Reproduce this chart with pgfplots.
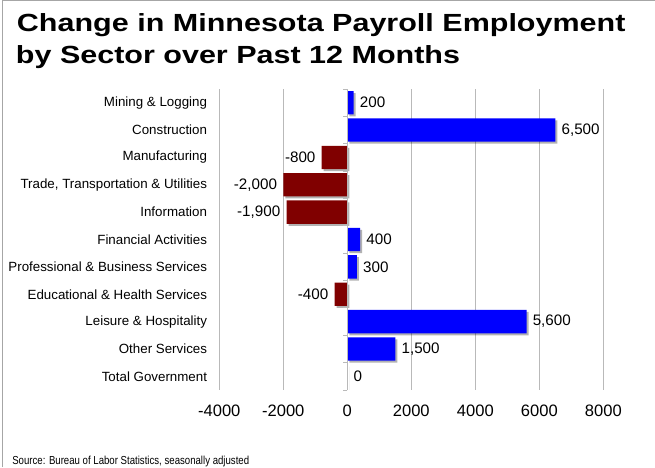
\documentclass[border=0pt]{standalone}
\usepackage{pgfplots}
\usepackage{pgfplotstable}
\pgfplotsset{compat=1.18}
\usepackage{fontspec}
\setmainfont{Liberation Sans}
\usepackage{graphicx}
\definecolor{posblue}{RGB}{0,0,255}
\definecolor{negred}{RGB}{128,0,0}
\definecolor{gridgray}{RGB}{185,185,185}

\pgfplotstableread{
y x
0 200
1 6500
5 400
6 300
8 5600
9 1500
10 0
}\posdata
\pgfplotstableread{
y x
2 -800
3 -2000
4 -1900
7 -400
}\negdata

\begin{document}
\begin{tikzpicture}
\path[use as bounding box] (0,0) rectangle (491.25pt,-350.25pt);
\draw[gray!70, line width=0.75pt] (2.7*0.75pt,-350.25pt) -- (2.7*0.75pt,-0.4pt) -- (491.25pt,-0.4pt);
\node[anchor=base west, inner sep=0pt, font=\fontsize{18.6pt}{22pt}\selectfont\bfseries] at (16.7*0.75pt,-32*0.75pt) {\scalebox{1.23}[1]{Change in Minnesota Payroll Employment}};
\node[anchor=base west, inner sep=0pt, font=\fontsize{18.6pt}{22pt}\selectfont\bfseries] at (15.7*0.75pt,-63.5*0.75pt) {\scalebox{1.23}[1]{by Sector over Past 12 Months}};
\node[anchor=base west, inner sep=0pt, font=\fontsize{8.7pt}{10pt}\selectfont] at (12*0.75pt,-464*0.75pt) {\scalebox{0.83}[1]{Source: Bureau of Labor Statistics, seasonally adjusted}};
\begin{axis}[
  at={(164.475pt,-292.5pt)}, anchor=south west,
  scale only axis, width=288pt, height=225.75pt,
  xmin=-4000, xmax=8000, ymin=-0.5, ymax=10.5, y dir=reverse,
  xtick={-4000,-2000,...,8000},
  ytick={0,...,10},
  yticklabels={Mining \& Logging, Construction, Manufacturing, {Trade, Transportation \& Utilities}, Information, Financial Activities, Professional \& Business Services, Educational \& Health Services, Leisure \& Hospitality, Other Services, Total Government},
  xmajorgrids, grid style={gridgray, line width=0.75pt},
  axis line style={draw=none},
  tick style={draw=none},
  xticklabel style={font=\fontsize{12.4pt}{14pt}\selectfont, inner sep=0pt, anchor=north, yshift=-11.25pt},
  yticklabel style={font=\fontsize{10pt}{12pt}\selectfont, inner sep=0pt, anchor=east, xshift=-9pt},
  /pgf/number format/.cd, 1000 sep={}, assume math mode=true,
]
\addplot[xbar, bar width=17.5pt, bar shift=0pt, fill=black, fill opacity=0.3, draw=none, xshift=1.5pt, yshift=-1.5pt, forget plot] table[x=x,y=y]{\posdata};
\addplot[xbar, bar width=17.5pt, bar shift=0pt, fill=black, fill opacity=0.3, draw=none, xshift=1.5pt, yshift=-1.5pt, forget plot] table[x=x,y=y]{\negdata};
\addplot[xbar, bar width=17.5pt, bar shift=0pt, fill=posblue, draw=none, point meta=x,
  nodes near coords={\pgfmathprintnumber[fixed, 1000 sep={,}, assume math mode=true]{\pgfplotspointmeta}},
  nodes near coords style={anchor=west, inner sep=0pt, xshift=4.5pt, font=\fontsize{11.4pt}{13pt}\selectfont, text=black}] table[x=x,y=y]{\posdata};
\addplot[xbar, bar width=17.5pt, bar shift=0pt, fill=negred, draw=none, point meta=x,
  nodes near coords={\pgfmathprintnumber[fixed, 1000 sep={,}, assume math mode=true]{\pgfplotspointmeta}},
  nodes near coords style={anchor=east, inner sep=0pt, xshift=-4.5pt, font=\fontsize{11.4pt}{13pt}\selectfont, text=black}] table[x=x,y=y]{\negdata};
\draw[gridgray, line width=0.75pt] (axis cs:0,-0.5) -- (axis cs:0,10.5);
\pgfplotsinvokeforeach{-0.5,0.5,...,10.5}{\draw[gridgray, line width=0.75pt] (axis cs:0,#1) -- ++(-3.5pt,0pt);}
\end{axis}
\end{tikzpicture}
\end{document}
